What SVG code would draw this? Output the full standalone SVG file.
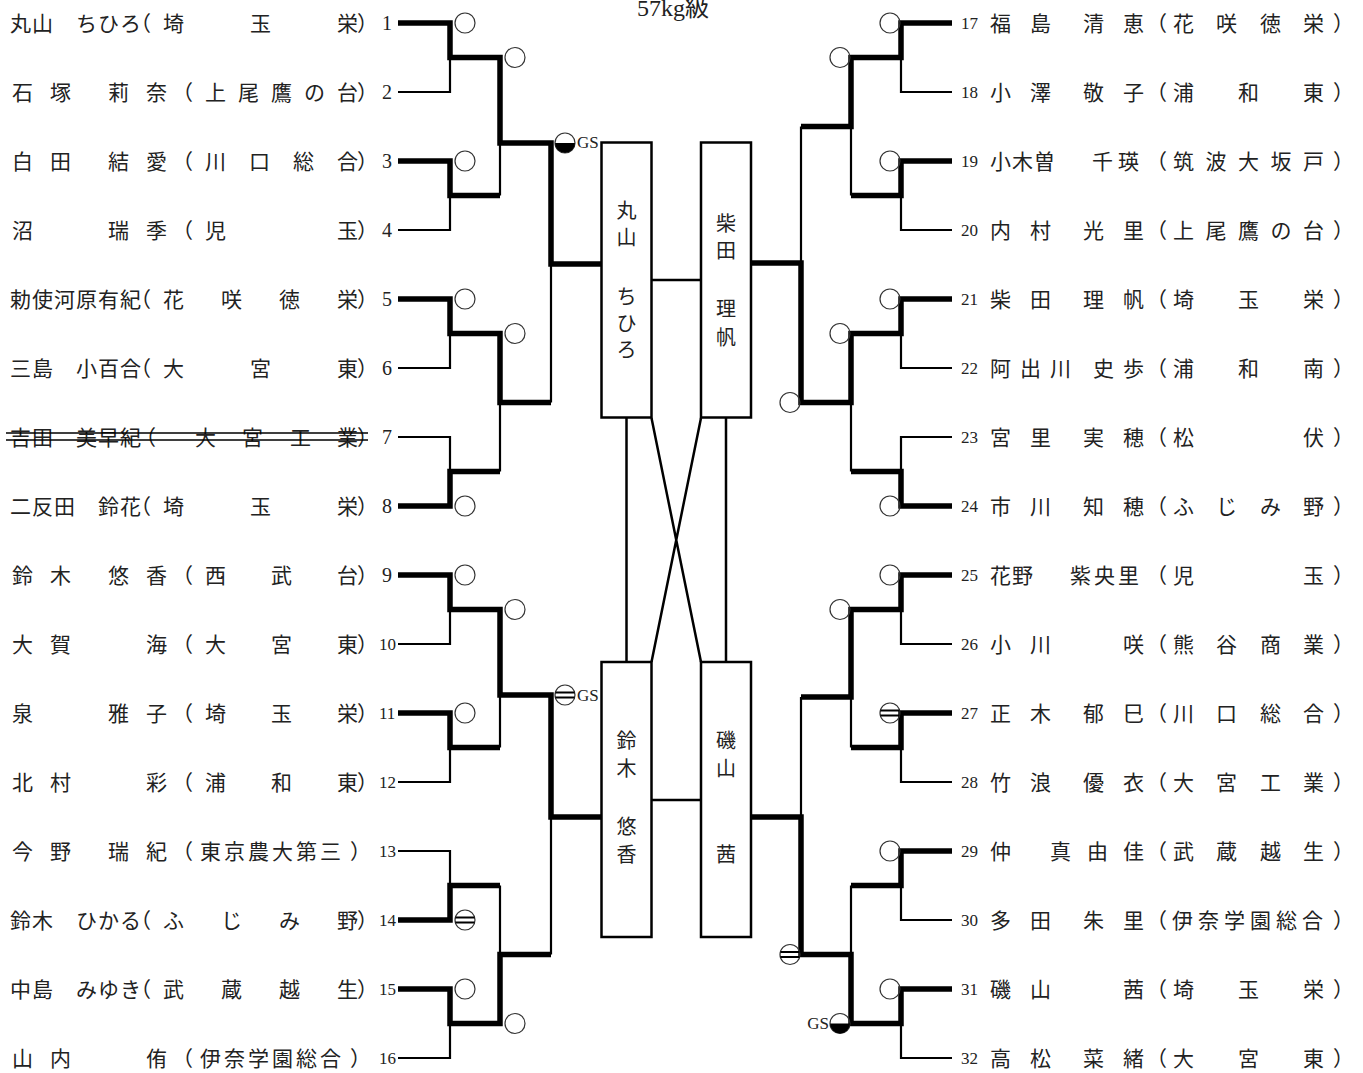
<svg xmlns="http://www.w3.org/2000/svg" width="1363" height="1073" viewBox="0 0 1363 1073">
<style>
.t{font-family:'Liberation Serif','Noto Sans CJK JP',serif;font-size:21px;fill:#222}
.n{font-family:'Liberation Serif',serif;font-size:20px;fill:#222}
.n2{font-family:'Liberation Serif',serif;font-size:17px;fill:#222}
.k{fill:none;stroke:#000;stroke-width:5.5;stroke-linejoin:miter;stroke-linecap:butt}
.h{fill:none;stroke:#000;stroke-width:2.2}
.c{fill:none;stroke:#333;stroke-width:1.2}
.q{stroke:#000;stroke-width:1.8}
.box{fill:#fff;stroke:#000;stroke-width:2.5}
.v{font-family:'Liberation Serif','Noto Sans CJK JP',serif;font-size:20px;text-anchor:middle;fill:#222}
.gs{font-family:'Liberation Serif',serif;font-size:17px;fill:#222}
</style>
<rect width="1363" height="1073" fill="#fff"/>
<g id="title"><text x="637" y="16" style="font-family:'Liberation Serif','Noto Sans CJK JP',serif;font-size:24px;fill:#222">57kg級</text></g>

<g id="connectors">
<path class="k" d="M398 23H450V57.5H500V143H551V264H601"/>
<path class="k" d="M398 161H450V195.5H500"/>
<path class="k" d="M398 299H450V333.5H500V402.5H551"/>
<path class="k" d="M398 506H450V471.5H500"/>
<path class="h" d="M398 92H450V57.5M398 230H450V195.5M500 143V195.5M398 368H450V333.5M398 437H450V471.5M500 402.5V471.5M551 264V402.5"/>
<path class="k" d="M398 575H450V609.5H500V695H551V817H601"/>
<path class="k" d="M398 713H450V747.5H500"/>
<path class="k" d="M398 989H450V1023.5H500V954.5H551"/>
<path class="k" d="M398 920H450V885.5H500"/>
<path class="h" d="M398 644H450V609.5M398 782H450V747.5M500 695V747.5M398 851H450V885.5M398 1058H450V1023.5M500 885.5V954.5M551 817V954.5"/>
<path class="k" d="M952 299H901V333.5H851V402.5H801V263H751"/>
<path class="k" d="M952 23H901V57.5H851V126.5H801"/>
<path class="k" d="M952 161H901V195.5H851"/>
<path class="k" d="M952 506H901V471.5H851"/>
<path class="h" d="M952 92H901V57.5M952 230H901V195.5M851 126.5V195.5M952 368H901V333.5M952 437H901V471.5M851 402.5V471.5M801 126.5V263"/>
<path class="k" d="M952 989H901V1023.5H851V954.5H801V817H751"/>
<path class="k" d="M952 575H901V609.5H851V697H801"/>
<path class="k" d="M952 713H901V747.5H851"/>
<path class="k" d="M952 851H901V885.5H851"/>
<path class="h" d="M952 644H901V609.5M952 782H901V747.5M851 697V747.5M952 920H901V885.5M952 1058H901V1023.5M851 885.5V954.5M801 697V817"/>
<path fill="none" stroke="#000" stroke-width="2.5" d="M651.5 280H701M651.5 800H701M626.5 418V662M726 418V662M651.5 418L701 662M651.5 662L701 418"/>
</g>

<g id="marks">
<g class="c">
<circle cx="465" cy="23" r="10"/><circle cx="515" cy="57.5" r="10"/><circle cx="465" cy="161" r="10"/>
<circle cx="465" cy="299" r="10"/><circle cx="515" cy="333.5" r="10"/><circle cx="465" cy="506" r="10"/>
<circle cx="465" cy="575" r="10"/><circle cx="515" cy="609.5" r="10"/><circle cx="465" cy="713" r="10"/>
<circle cx="465" cy="989" r="10"/><circle cx="515" cy="1023.5" r="10"/>
<circle cx="890" cy="23" r="10"/><circle cx="840" cy="57.5" r="10"/><circle cx="890" cy="161" r="10"/>
<circle cx="790" cy="402.5" r="10"/><circle cx="890" cy="299" r="10"/><circle cx="840" cy="333.5" r="10"/>
<circle cx="890" cy="506" r="10"/><circle cx="890" cy="575" r="10"/><circle cx="840" cy="609.5" r="10"/>
<circle cx="890" cy="851" r="10"/><circle cx="890" cy="989" r="10"/>
<circle cx="565" cy="143" r="10"/><circle cx="840" cy="1023.5" r="10"/>
<circle cx="565" cy="695" r="10"/><circle cx="465" cy="920" r="10"/><circle cx="890" cy="713" r="10"/><circle cx="790" cy="954.5" r="10"/>
</g>
<path d="M555 143A10 10 0 0 0 575 143Z" fill="#000"/>
<path d="M830 1023.5A10 10 0 0 0 850 1023.5Z" fill="#000"/>
<path class="q" d="M555.5 692.5H574.5M555.5 697.5H574.5M455.5 917.5H474.5M455.5 922.5H474.5M880.5 710.5H899.5M880.5 715.5H899.5M780.5 952H799.5M780.5 957H799.5"/>
<text class="gs" x="577" y="148">GS</text>
<text class="gs" x="577" y="701">GS</text>
<text class="gs" x="829" y="1029" text-anchor="end">GS</text>
</g>

<g id="box-maruyama"><rect class="box" x="601.5" y="142.5" width="50" height="275"/><text class="v" x="626.5 626.5 626.5 626.5 626.5" y="218 245 304 331 357">丸山ちひろ</text></g>
<g id="box-shibata"><rect class="box" x="701" y="142.5" width="50" height="275"/><text class="v" x="726 726 726 726" y="231 258 316 345">柴田理帆</text></g>
<g id="box-suzuki"><rect class="box" x="601.5" y="662" width="50" height="275"/><text class="v" x="626.5 626.5 626.5 626.5" y="748 776 834 862">鈴木悠香</text></g>
<g id="box-isoyama"><rect class="box" x="701" y="662" width="50" height="275"/><text class="v" x="726 726 726" y="748 776 862">磯山茜</text></g>

<g id="p1"><text class="t" x="10 32 54 76 98 120 130 163 250 337 357" y="31">丸山　ちひろ（埼玉栄）</text><text class="n" x="382" y="30">1</text></g>
<g id="p2"><text class="t" x="12 50 79 108 146 172 205 238 271 304 337 357" y="100">石塚　莉奈（上尾鷹の台）</text><text class="n" x="382" y="99">2</text></g>
<g id="p3"><text class="t" x="12 50 79 108 146 172 205 249 293 337 357" y="169">白田　結愛（川口総合）</text><text class="n" x="382" y="168">3</text></g>
<g id="p4"><text class="t" x="12 60 108 146 172 205 337 357" y="238">沼　瑞季（児玉）</text><text class="n" x="382" y="237">4</text></g>
<g id="p5"><text class="t" x="10 32 54 76 98 120 130 163 221 279 337 357" y="307">勅使河原有紀（花咲徳栄）</text><text class="n" x="382" y="306">5</text></g>
<g id="p6"><text class="t" x="10 32 54 76 98 120 130 163 250 337 357" y="376">三島　小百合（大宮東）</text><text class="n" x="382" y="375">6</text></g>
<g id="p7"><text class="t" x="10 32 54 76 98 120 135 195 242 290 337 357" y="445">吉田　美早紀（大宮工業）</text><path d="M6 433H368M6 440H368" stroke="#000" stroke-width="1.6"/><text class="n" x="382" y="444">7</text></g>
<g id="p8"><text class="t" x="10 32 54 76 98 120 130 163 250 337 357" y="514">二反田　鈴花（埼玉栄）</text><text class="n" x="382" y="513">8</text></g>
<g id="p9"><text class="t" x="12 50 79 108 146 172 205 271 337 357" y="583">鈴木　悠香（西武台）</text><text class="n" x="382" y="582">9</text></g>
<g id="p10"><text class="t" x="12 50 98 146 172 205 271 337 357" y="652">大賀　海（大宮東）</text><text class="n2" x="379" y="650">10</text></g>
<g id="p11"><text class="t" x="12 60 108 146 172 205 271 337 357" y="721">泉　雅子（埼玉栄）</text><text class="n2" x="379" y="719">11</text></g>
<g id="p12"><text class="t" x="12 50 98 146 172 205 271 337 357" y="790">北村　彩（浦和東）</text><text class="n2" x="379" y="788">12</text></g>
<g id="p13"><text class="t" x="12 50 79 108 146 172 200 224 248 272 296 320 350" y="859">今野　瑞紀（東京農大第三）</text><text class="n2" x="379" y="857">13</text></g>
<g id="p14"><text class="t" x="10 32 54 76 98 120 130 163 221 279 337 357" y="928">鈴木　ひかる（ふじみ野）</text><text class="n2" x="379" y="926">14</text></g>
<g id="p15"><text class="t" x="10 32 54 76 98 120 130 163 221 279 337 357" y="997">中島　みゆき（武蔵越生）</text><text class="n2" x="379" y="995">15</text></g>
<g id="p16"><text class="t" x="12 50 98 146 172 200 224 248 272 296 320 350" y="1066">山内　侑（伊奈学園総合）</text><text class="n2" x="379" y="1064">16</text></g>

<g id="p17"><text class="n2" x="961" y="29">17</text><text class="t" x="990 1030 1056 1083 1123 1146 1173 1216 1260 1303 1333" y="31">福島　清恵（花咲徳栄）</text></g>
<g id="p18"><text class="n2" x="961" y="98">18</text><text class="t" x="990 1030 1056 1083 1123 1146 1173 1238 1303 1333" y="100">小澤　敬子（浦和東）</text></g>
<g id="p19"><text class="n2" x="961" y="167">19</text><text class="t" x="990 1012 1034 1060 1092 1118 1146 1173 1205.5 1238 1270.5 1303 1333" y="169">小木曽　千瑛（筑波大坂戸）</text></g>
<g id="p20"><text class="n2" x="961" y="236">20</text><text class="t" x="990 1030 1056 1083 1123 1146 1173 1205.5 1238 1270.5 1303 1333" y="238">内村　光里（上尾鷹の台）</text></g>
<g id="p21"><text class="n2" x="961" y="305">21</text><text class="t" x="990 1030 1056 1083 1123 1146 1173 1238 1303 1333" y="307">柴田　理帆（埼玉栄）</text></g>
<g id="p22"><text class="n2" x="961" y="374">22</text><text class="t" x="990 1020 1050 1071 1093 1123 1146 1173 1238 1303 1333" y="376">阿出川　史歩（浦和南）</text></g>
<g id="p23"><text class="n2" x="961" y="443">23</text><text class="t" x="990 1030 1056 1083 1123 1146 1173 1303 1333" y="445">宮里　実穂（松伏）</text></g>
<g id="p24"><text class="n2" x="961" y="512">24</text><text class="t" x="990 1030 1056 1083 1123 1146 1173 1216 1260 1303 1333" y="514">市川　知穂（ふじみ野）</text></g>
<g id="p25"><text class="n2" x="961" y="581">25</text><text class="t" x="990 1012 1040 1070 1094 1118 1146 1173 1303 1333" y="583">花野　紫央里（児玉）</text></g>
<g id="p26"><text class="n2" x="961" y="650">26</text><text class="t" x="990 1030 1076 1123 1146 1173 1216 1260 1303 1333" y="652">小川　咲（熊谷商業）</text></g>
<g id="p27"><text class="n2" x="961" y="719">27</text><text class="t" x="990 1030 1056 1083 1123 1146 1173 1216 1260 1303 1333" y="721">正木　郁巳（川口総合）</text></g>
<g id="p28"><text class="n2" x="961" y="788">28</text><text class="t" x="990 1030 1056 1083 1123 1146 1173 1216 1260 1303 1333" y="790">竹浪　優衣（大宮工業）</text></g>
<g id="p29"><text class="n2" x="961" y="857">29</text><text class="t" x="990 1020 1050 1087 1123 1146 1173 1216 1260 1303 1333" y="859">仲　真由佳（武蔵越生）</text></g>
<g id="p30"><text class="n2" x="961" y="926">30</text><text class="t" x="990 1030 1056 1083 1123 1146 1172 1198 1224 1250 1276 1302 1333" y="928">多田　朱里（伊奈学園総合）</text></g>
<g id="p31"><text class="n2" x="961" y="995">31</text><text class="t" x="990 1030 1076 1123 1146 1173 1238 1303 1333" y="997">磯山　茜（埼玉栄）</text></g>
<g id="p32"><text class="n2" x="961" y="1064">32</text><text class="t" x="990 1030 1056 1083 1123 1146 1173 1238 1303 1333" y="1066">高松　菜緒（大宮東）</text></g>
</svg>
